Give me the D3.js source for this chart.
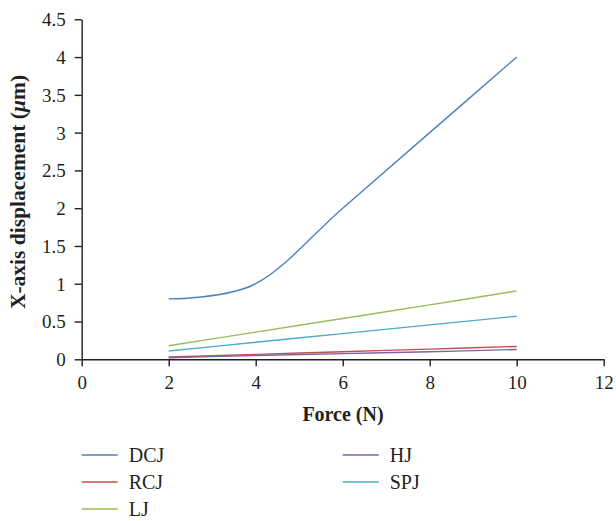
<!DOCTYPE html>
<html><head><meta charset="utf-8">
<script src="https://cdn.jsdelivr.net/npm/d3@7"></script>
<style>body{margin:0;background:#fff}svg{display:block}text{font-family:"Liberation Serif","DejaVu Serif",serif;fill:#231f20}</style>
</head><body><div id="chart"></div>
<script>
const forces = [2, 4, 6, 8, 10];
const DCJ = [0.80, 1.00, 2.00, 3.00, 4.00];
const RCJ = [0.03, 0.065, 0.10, 0.135, 0.17];
const LJ  = [0.18, 0.36, 0.54, 0.72, 0.905];
const HJ  = [0.02, 0.05, 0.075, 0.10, 0.13];
const SPJ = [0.11, 0.225, 0.34, 0.455, 0.57];
const seriesNames = ["DCJ", "RCJ", "LJ", "HJ", "SPJ"];
const seriesValues = [DCJ, RCJ, LJ, HJ, SPJ];
const colors = ["#4f81bd", "#c0504d", "#9bbb59", "#8064a2", "#4bacc6"];
const xTicks = [0, 2, 4, 6, 8, 10, 12];
const yTicks = [0, 0.5, 1, 1.5, 2, 2.5, 3, 3.5, 4, 4.5];

const W = 616, H = 521;
const svg = d3.select("#chart").append("svg").attr("width", W).attr("height", H);
const x = d3.scaleLinear().domain([0, 12]).range([81.7, 603.7]);
const y = d3.scaleLinear().domain([0, 4.5]).range([359.3, 19.3]);

const xAxis = svg.append("g").attr("transform", `translate(0,${y(0)})`)
  .call(d3.axisBottom(x).tickValues(xTicks).tickFormat(d3.format("d")).tickSize(7).tickSizeOuter(0));
const yAxis = svg.append("g").attr("transform", `translate(${x(0)},0)`)
  .call(d3.axisLeft(y).tickValues(yTicks).tickFormat(d => String(d)).tickSize(7).tickSizeOuter(0));
[xAxis, yAxis].forEach(g => {
  g.select(".domain").attr("stroke", "#231f20").attr("stroke-width", 1.4);
  g.selectAll(".tick line").attr("stroke", "#231f20").attr("stroke-width", 1.4);
  g.selectAll(".tick text").attr("font-size", 19).attr("font-family", '"Liberation Serif",serif').attr("fill", "#231f20");
});
xAxis.selectAll(".tick text").attr("dy", "1.05em");
yAxis.selectAll(".tick text").attr("x", -16).attr("dy", "0.34em");

const line = d3.line().x((d, i) => x(forces[i])).y(d => y(d)).curve(d3.curveCardinal.tension(0));
[1, 3, 4, 2, 0].forEach(k => {
  svg.append("path").attr("d", line(seriesValues[k])).attr("fill", "none")
    .attr("stroke", colors[k]).attr("stroke-width", 1.4);
});

svg.append("text").attr("x", 343).attr("y", 421).attr("text-anchor", "middle")
  .attr("font-weight", "bold").attr("font-size", 20).text("Force (N)");
svg.append("text").attr("transform", `translate(25,192) rotate(-90)`).attr("text-anchor", "middle")
  .attr("font-weight", "bold").attr("font-size", 21.5)
  .html('X-axis displacement (<tspan font-style="italic">μ</tspan>m)');

const legendPos = [[81.7, 455], [81.7, 482], [81.7, 509], [342.7, 455], [342.7, 482]];
seriesNames.forEach((n, i) => {
  const [lx, ly] = legendPos[i];
  const g = svg.append("g");
  g.append("line").attr("x1", lx).attr("x2", lx + 36).attr("y1", ly).attr("y2", ly)
    .attr("stroke", colors[i]).attr("stroke-width", 1.4);
  g.append("text").attr("x", lx + 47).attr("y", ly).attr("dy", "0.35em")
    .attr("font-size", 20).text(n);
});
</script></body></html>
